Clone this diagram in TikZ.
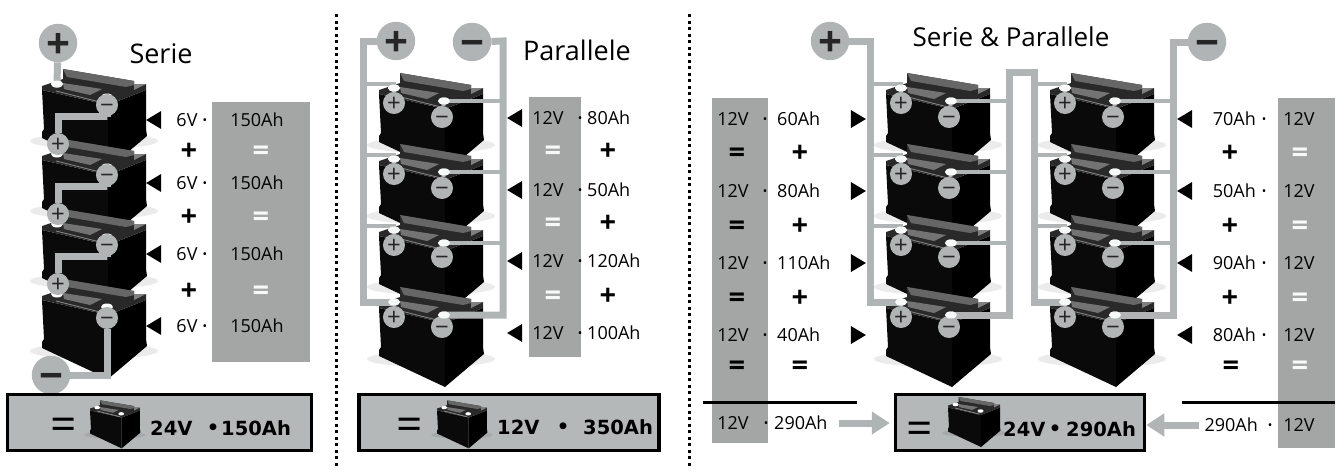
\documentclass[tikz,border=0pt]{standalone}
\usepackage{fontspec}
\setmainfont{Open Sans}
\newfontfamily\heavyfont{DejaVu Sans}
\usepackage{tikz}
\usetikzlibrary{arrows.meta}
\usetikzlibrary{calc}
\usetikzlibrary{shapes.geometric}
\definecolor{WireGray}{HTML}{B1B4B4}
\definecolor{StripGray}{HTML}{A4A6A6}
\definecolor{BoxGray}{HTML}{B4B8B8}
\definecolor{SignDark}{HTML}{262626}
\tikzset{
  battery/.pic={
    \fill[black,opacity=.08] (52,54) ellipse (64 and 8);
    \fill[black!96] (0,3) -- (66,18) -- (66,82) -- (0,51) -- (0,45) -- (2,42) -- cycle;
    \fill[black] (66,18) -- (104,3) -- (104,42) -- (105,49) -- (66,82) -- cycle;
    \fill[black!84] (0,-1) -- (21,-8) -- (21,-18) -- (92,-6) -- (92,-3) -- (104,-3) -- (104,3) -- (66,18) -- (0,3) -- cycle;
    \fill[black!60] (21,-18) -- (92,-6) -- (92,-2) -- (84,0) -- (25,-10) -- cycle;
    \fill[black!55] (21,-4) -- (60,2) -- (48,8) -- (22,2) -- cycle;
    \fill[black!50] (92,3) -- (92,-3) -- (104,-3) -- cycle;
    \draw[black!45,line width=.8pt] (14,4) -- (62,16);
    \coordinate (-plus) at (15,-3);
    \coordinate (-minus) at (65,10);
    \fill[white] (-plus) ellipse (6 and 3.5);
    \fill[white] (-minus) ellipse (6 and 3.5);
  },
  wire/.style={draw=WireGray,line width=7pt},
  branch/.style={draw=WireGray,line width=4pt},
  bigterm/.style={circle,fill=WireGray,text=SignDark,minimum size=33pt,inner sep=0pt,text height=30.2pt,text depth=0pt,font=\fontsize{42}{42}\selectfont\bfseries},
  term/.style={circle,fill=WireGray,text=SignDark,minimum size=20pt,inner sep=0pt,text height=17.3pt,text depth=0pt,font=\fontsize{24}{24}\selectfont},
  termcap/.style={ellipse,fill=white!90!WireGray,minimum width=12pt,minimum height=7pt,inner sep=0pt},
  lab/.style={inner sep=0pt,font=\fontsize{18}{20}\selectfont},
  title/.style={inner sep=0pt,font=\fontsize{27}{30}\selectfont},
  sign/.style={inner sep=0pt,text height=20.9pt,text depth=0pt,font=\fontsize{29}{30}\selectfont\bfseries},
  whitesign/.style={sign,text=white!92!StripGray},
  dotmark/.style={inner sep=0pt,yshift=-1.5pt,font=\fontsize{12}{12}\selectfont},
  strip/.style={fill=StripGray},
  tright/.style={isosceles triangle,isosceles triangle stretches,fill=black,minimum width=18pt,minimum height=15pt,inner sep=0pt},
  tleft/.style={tright,shape border rotate=180},
  sumbox/.style={draw=black,line width=3.5pt,fill=BoxGray,minimum height=56pt,inner sep=0pt},
  sumtext/.style={inner sep=0pt,font=\heavyfont\fontsize{19.5}{22}\selectfont\bfseries},
  sumeq/.style={inner sep=0pt,text height=33pt,text depth=0pt,font=\fontsize{46}{46}\selectfont},
  bigarrow/.style={draw=WireGray,line width=7pt,-{Triangle[length=18pt,width=22pt]}},
  sep/.style={line width=3pt,dash pattern=on 3pt off 3.5pt}
}
\begin{document}
\begin{tikzpicture}[x=1pt,y=-1pt]
  \useasboundingbox (0,0) rectangle (1341,472);

  % separators
  \coordinate (septop1) at (336,14);
  \coordinate (sepbot1) at (336,468);
  \coordinate (septop2) at (689,14);
  \coordinate (sepbot2) at (689,468);
  \draw[sep] (septop1) -- (sepbot1);
  \draw[sep] (septop2) -- (sepbot2);

  % grey strips
  \fill[strip] (212,102) rectangle (310,362);
  \fill[strip] (529,97) rectangle (581,357);
  \fill[strip] (712,98) rectangle (768,443);
  \fill[strip] (1278,98) rectangle (1335,448);

  % batteries
  \foreach \n/\y in {1/87,2/157,3/227,4/297} {
    \pic (s\n) at (42,\y) {battery};
  }
  \foreach \n/\y in {1/91,2/162,3/233,4/305} {
    \pic (p\n) at (379,\y) {battery};
    \pic (a\n) at (886,\y) {battery};
    \pic (b\n) at (1050,\y) {battery};
  }

  % Serie
  \node[title] (stitle) at (161,54) {Serie};
  \node[bigterm] (splus) at (58,43) {+};
  \node[bigterm] (sminus) at (51,375) {−};
  \foreach \n in {2,3,4} {
    \node[term] (s\n-tp) at ($(s\n-plus)+(1,-10)$) {+};
  }
  \foreach \n/\d in {1/8,2/8,3/8,4/11} {
    \node[term] (s\n-tm) at ($(s\n-minus)+(0,\d)$) {−};
  }
  \draw[wire] (splus) -- (s1-plus);
  \draw[wire] (s1-tm) -- ++(0,11) -| (s2-tp);
  \draw[wire] (s2-tm) -- ++(0,11) -| (s3-tp);
  \draw[wire] (s3-tm) -- ++(0,11) -| (s4-tp);
  \draw[wire] (s4-tm) |- (sminus);
  \node[termcap] (s1-cap) at (s1-plus) {};
  \foreach \n/\y/\dy in {1/120/150,2/183/216,3/254/290} {
    \node[lab] (sv\n) at (187,\y) {6V};
    \node[dotmark] (sd\n) at (205,\y) {•};
    \node[lab] (sa\n) at (257,\y) {150Ah};
    \node[tleft] (st\n) at (156,\y) {};
    \node[sign] (sp\n) at (189,\dy) {+};
    \node[whitesign] (se\n) at (261,\dy) {=};
  }
  \node[lab] (sv4) at (187,326) {6V};
  \node[dotmark] (sd4) at (205,326) {•};
  \node[lab] (sa4) at (257,326) {150Ah};
  \node[tleft] (st4) at (156,326) {};
  \node[sumbox,minimum width=304pt] (ssum) at (159.5,422.5) {};
  \node[sumeq] (sseq) at (64,424) {=};
  \pic[scale=.48] (sbat) at (90,409) {battery};
  \node[sumtext,anchor=west] (sv) at (150,428) {24V};
  \node[sumtext,yshift=-2pt] (sdt) at (213,427) {•};
  \node[sumtext,anchor=west] (sa) at (221,428) {150Ah};

  % Parallele
  \node[title] (ptitle) at (577,50) {Parallele};
  \node[bigterm] (pplus) at (396,41) {+};
  \node[bigterm] (pminus) at (472,42) {−};
  \foreach \n/\d in {1/16,2/16,3/14,4/12} {
    \node[term] (p\n-tp) at ($(p\n-plus)+(0,15)$) {+};
    \node[term] (p\n-tm) at ($(p\n-minus)+(-2,\d)$) {−};
    \draw[branch] (p\n-plus) -- (p\n-tp);
    \draw[branch] (p\n-minus) -- (p\n-tm);
  }
  \draw[wire] (pplus) -- (363,41) |- (p4-plus);
  \draw[wire] (pminus) -- (503,41) |- (p4-minus);
  \foreach \n in {1,2,3} {
    \draw[branch] (p\n-plus) |- ($(p\n-plus)+(-31,-4)$);
    \draw[branch] (p\n-minus) -- (503,0 |- p\n-minus);
  }
  \foreach \n in {1,2,3,4} {
    \node[termcap] (p\n-cp) at (p\n-plus) {};
    \node[termcap] (p\n-cm) at (p\n-minus) {};
  }
  \foreach \n/\y/\txt in {1/118/80Ah,2/190/50Ah,3/261/120Ah,4/333/100Ah} {
    \node[lab] (pv\n) at (548,\y) {12V};
    \node[dotmark] (pd\n) at (580,\y) {•};
    \node[lab,anchor=west] (pa\n) at (587,\y) {\txt};
    \node[tleft] (pt\n) at (517,\y) {};
  }
  \foreach \n/\y in {1/150,2/222,3/295} {
    \node[whitesign] (pe\n) at (553,\y) {=};
    \node[sign] (ps\n) at (608,\y) {+};
  }
  \node[sumbox,minimum width=300pt] (psum) at (509,422.5) {};
  \node[sumeq] (pseq) at (410,424) {=};
  \pic[scale=.48] (pbat) at (437,409) {battery};
  \node[sumtext,anchor=west] (pv) at (497,427) {12V};
  \node[sumtext,yshift=-2pt] (pdt) at (563,426) {•};
  \node[sumtext,anchor=west] (pa) at (583,427) {350Ah};

  % Serie & Parallele
  \node[title,font=\fontsize{26}{30}\selectfont] (ctitle) at (1011,37) {Serie \& Parallele};
  \node[bigterm] (cplus) at (830,41) {+};
  \node[bigterm] (cminus) at (1207,42) {−};
  \foreach \g in {a,b} {
    \foreach \n/\d in {1/16,2/16,3/14,4/12} {
      \node[term] (\g\n-tp) at ($(\g\n-plus)+(0,15)$) {+};
      \node[term] (\g\n-tm) at ($(\g\n-minus)+(-2,\d)$) {−};
      \draw[branch] (\g\n-plus) -- (\g\n-tp);
      \draw[branch] (\g\n-minus) -- (\g\n-tm);
    }
  }
  \draw[wire] (cplus) -- (870,41) |- (a4-plus);
  \draw[wire] (a4-minus) -| (1009,72) -- (1034,72) |- (b4-plus);
  \draw[wire] (cminus) -- (1173,42) |- (b4-minus);
  \foreach \n in {1,2,3} {
    \draw[branch] (a\n-plus) |- ($(a\n-plus)+(-31,-4)$);
    \draw[branch] (a\n-minus) -- (1009,0 |- a\n-minus);
    \draw[branch] (b\n-plus) |- ($(b\n-plus)+(-31,-4)$);
    \draw[branch] (b\n-minus) -- (1173,0 |- b\n-minus);
  }
  \foreach \g in {a,b} {
    \foreach \n in {1,2,3,4} {
      \node[termcap] (\g\n-cp) at (\g\n-plus) {};
      \node[termcap] (\g\n-cm) at (\g\n-minus) {};
    }
  }
  \foreach \n/\y/\txt in {1/119/60Ah,2/191/80Ah,3/263/110Ah,4/335/40Ah} {
    \node[lab] (lv\n) at (733,\y) {12V};
    \node[dotmark] (ld\n) at (765,\y) {•};
    \node[lab,anchor=west] (la\n) at (777,\y) {\txt};
    \node[tright] (lt\n) at (856,\y) {};
  }
  \foreach \n/\y/\txt in {1/119/70Ah,2/191/50Ah,3/263/90Ah,4/335/80Ah} {
    \node[lab,anchor=east] (ra\n) at (1256,\y) {\txt};
    \node[dotmark] (rd\n) at (1264,\y) {•};
    \node[lab] (rv\n) at (1299,\y) {12V};
    \node[tleft] (rt\n) at (1187,\y) {};
  }
  \foreach \n/\y in {1/152,2/225,3/297} {
    \node[sign] (le\n) at (737,\y) {=};
    \node[sign] (ls\n) at (800,\y) {+};
    \node[sign] (rs\n) at (1230,\y) {+};
    \node[whitesign] (re\n) at (1300,\y) {=};
  }
  \node[sign] (le4) at (737,365) {=};
  \node[sign] (lq4) at (800,365) {=};
  \node[sign] (rq4) at (1231,365) {=};
  \node[whitesign] (re4) at (1300,365) {=};
  \coordinate (lrule1) at (703,402);
  \coordinate (lrule2) at (857,402);
  \coordinate (rrule1) at (1182,402);
  \coordinate (rrule2) at (1335,402);
  \draw[line width=3pt] (lrule1) -- (lrule2);
  \draw[line width=3pt] (rrule1) -- (rrule2);
  \node[lab] (lvt) at (733,423) {12V};
  \node[dotmark] (ldt) at (766,423) {•};
  \node[lab,anchor=west] (lat) at (774,423) {290Ah};
  \node[lab,anchor=east] (rat) at (1258,425) {290Ah};
  \node[dotmark] (rdt) at (1270,425) {•};
  \node[lab] (rvt) at (1299,425) {12V};
  \node[sumbox,minimum width=249pt] (csum) at (1020,422.5) {};
  \node[sumeq] (cseq) at (920,428) {=};
  \pic[scale=.5] (cbat) at (948,406) {battery};
  \node[sumtext,anchor=west] (cv) at (1003,429) {24V};
  \node[sumtext,yshift=-2pt] (cdt) at (1055,428) {•};
  \node[sumtext,anchor=west] (ca) at (1066,429) {290Ah};
  \draw[bigarrow] ([xshift=11pt]lat.east) -- ([xshift=-4pt]csum.west |- lat);
  \draw[bigarrow] ([xshift=-5pt]rat.west) -- ([xshift=0pt]csum.east |- rat);
\end{tikzpicture}
\end{document}
